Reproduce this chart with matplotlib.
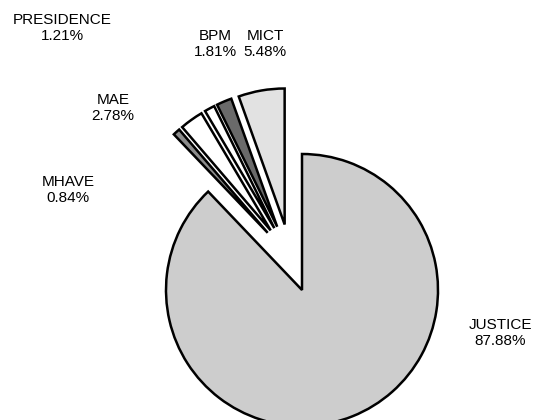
import matplotlib
matplotlib.use("Agg")
import matplotlib.pyplot as plt
import numpy as np

labels = ["JUSTICE", "MHAVE", "MAE", "PRESIDENCE", "BPM", "MICT"]
values = [87.88, 0.84, 2.78, 1.21, 1.81, 5.48]
colors = ["#cdcdcd", "#8c8c8c", "#ffffff", "#ffffff", "#6a6a6a", "#e2e2e2"]
group_shift = [0, 0.25, 0.25, 0.25, 0.25, 0.25]
own_gap = [0, 0.25, 0.25, 0.25, 0.25, 0.25]

# label positions in figure pixels (x, y from top)
label_pos = {
    "JUSTICE": (500, 333),
    "MHAVE": (68, 190),
    "MAE": (113, 108),
    "PRESIDENCE": (62, 28),
    "BPM": (215, 44),
    "MICT": (265, 44),
}

W, H = 536, 420
fig = plt.figure(figsize=(W / 100, H / 100), dpi=100)
ax = fig.add_axes([0, 0, 1, 1])
plt.rcParams['font.family'] = ['Liberation Sans', 'DejaVu Sans']

cx, cy, r = 302, 290, 136
wedges, _ = ax.pie(values, colors=colors, startangle=90, counterclock=False,
                   radius=1, wedgeprops=dict(edgecolor="black", linewidth=1.8))

# shift the small slices together along the bisector of their group
small = [w for w, s in zip(wedges, group_shift) if s > 0]
t_lo = min(min(w.theta1, w.theta2) for w in small)
t_hi = max(max(w.theta1, w.theta2) for w in small)
gdir = np.deg2rad((t_lo + t_hi) / 2 - 2)
for w, s, g in zip(wedges, group_shift, own_gap):
    if s > 0:
        mid = np.deg2rad((w.theta1 + w.theta2) / 2)
        dx = s * np.cos(gdir) + g * np.cos(mid)
        dy = s * np.sin(gdir) + g * np.sin(mid)
        w.set_center((dx, dy))

ax.set_xlim(-cx / r, (W - cx) / r)
ax.set_ylim(-(H - cy) / r, cy / r)
ax.set_aspect("equal")
ax.axis("off")

for lab, v in zip(labels, values):
    px, py = label_pos[lab]
    fig.text(px / W, 1 - py / H, f"{lab}\n{v:.2f}%", ha="center", va="center",
             fontsize=11, linespacing=1.25, family=['Liberation Sans', 'DejaVu Sans'])

fig.savefig("out.png", dpi=100, facecolor="white")
